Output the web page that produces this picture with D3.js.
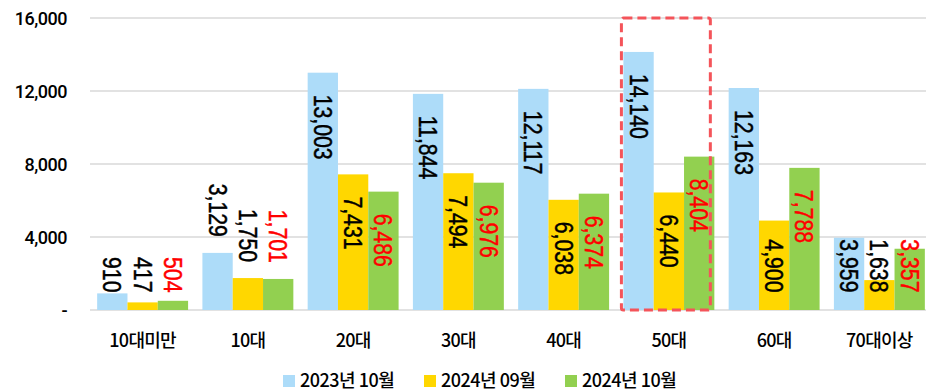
<!DOCTYPE html>
<html>
<head>
<meta charset="utf-8">
<script src="https://cdn.jsdelivr.net/npm/d3@7"></script>
<style>
  html, body { margin: 0; padding: 0; background: #fff; }
  svg { display: block; }
  text { font-family: Roboto, "Noto Sans CJK KR", sans-serif; }
</style>
</head>
<body>
<svg id="chart" width="926" height="391"></svg>
<script>
// Age groups and monthly counts
const categories = ["10대미만", "10대", "20대", "30대", "40대", "50대", "60대", "70대이상"];
const seriesNames = ["2023년 10월", "2024년 09월", "2024년 10월"];
const values2023Oct = [910, 3129, 13003, 11844, 12117, 14140, 12163, 3959];
const values2024Sep = [417, 1750, 7431, 7494, 6038, 6440, 4900, 1638];
const values2024Oct = [504, 1701, 6486, 6976, 6374, 8404, 7788, 3357];
const yTicks = [0, 4000, 8000, 12000, 16000];

// Presentation settings
const seriesColors = ["#addcf9", "#ffd700", "#92d050"];
const labelColors = ["#000000", "#000000", "#ff0000"];
const highlightCategory = "50대";
const outsideEndCategories = new Set(["10대"]);

const series = [values2023Oct, values2024Sep, values2024Oct];

const W = 926, H = 391;
const plot = { left: 90, right: 932, top: 18, bottom: 310 };

const svg = d3.select("#chart");

const x = d3.scaleBand()
  .domain(categories)
  .range([plot.left, plot.right])
  .paddingInner(0.136)
  .paddingOuter(0.068);

const xs = d3.scaleBand()
  .domain(d3.range(series.length))
  .range([0, x.bandwidth()]);

const y = d3.scaleLinear()
  .domain([0, 16000])
  .range([plot.bottom, plot.top]);

// Gridlines
svg.append("g")
  .selectAll("line")
  .data(yTicks)
  .join("line")
  .attr("x1", plot.left)
  .attr("x2", W)
  .attr("y1", d => y(d))
  .attr("y2", d => y(d))
  .attr("stroke", "#d9d9d9")
  .attr("stroke-width", 1.6);

// Y axis labels
const yAxis = d3.axisLeft(y)
  .tickValues(yTicks)
  .tickSize(0)
  .tickPadding(0)
  .tickFormat(d => d === 0 ? "-" : d3.format(",")(d));

const yAxisG = svg.append("g")
  .attr("transform", `translate(67,0)`)
  .call(yAxis);
yAxisG.select(".domain").remove();
yAxisG.selectAll("text")
  .attr("font-size", 18)
  .attr("fill", "#000")
  .attr("dy", "0.36em")
  .style("font-family", "Roboto, sans-serif")
  .style("font-weight", 500)
  .style("letter-spacing", "-0.5px");

// Category axis labels
const xAxis = d3.axisBottom(x).tickSize(0).tickPadding(0);
const xAxisG = svg.append("g")
  .attr("transform", `translate(0,347)`)
  .call(xAxis);
xAxisG.select(".domain").remove();
xAxisG.selectAll("text")
  .attr("font-size", 18)
  .attr("fill", "#000")
  .attr("dy", 0)
  .style("font-family", "'Noto Sans CJK KR', sans-serif")
  .style("font-weight", 500)
  .style("letter-spacing", "-0.7px");

// Bars
const groups = svg.append("g")
  .selectAll("g")
  .data(categories)
  .join("g")
  .attr("transform", d => `translate(${x(d)},0)`);

groups.each(function(cat, ci) {
  const g = d3.select(this);
  series.forEach((vals, si) => {
    g.append("rect")
      .attr("x", xs(si))
      .attr("width", xs.bandwidth())
      .attr("y", y(vals[ci]))
      .attr("height", y(0) - y(vals[ci]))
      .attr("fill", seriesColors[si]);
  });
});

// Rotated value labels
const labelScale = 0.85;
const labelFloor = plot.bottom - 17.5;
groups.each(function(cat, ci) {
  const g = d3.select(this);
  series.forEach((vals, si) => {
    const v = vals[ci];
    const cx = xs(si) + xs.bandwidth() / 2;
    const top = y(v);
    const lg = g.append("g");
    const t = lg.append("text")
      .attr("font-size", 25)
      .attr("fill", labelColors[si])
      .attr("stroke", labelColors[si])
      .attr("stroke-width", 0.45)
      .attr("y", "0.36em")
      .attr("text-anchor", "start")
      .style("font-family", "'Liberation Sans', Arial, sans-serif")
      .text(d3.format(",")(v));
    const len = t.node().getComputedTextLength() * labelScale;
    let start;
    if (outsideEndCategories.has(cat)) {
      start = top - 16 - len;
    } else {
      start = top + 22;
      if (start + len > labelFloor) start = labelFloor - len;
    }
    lg.attr("transform", `translate(${cx},${start}) rotate(90) scale(${labelScale},1)`);
  });
});

// Highlight box around one age group
const hx = x(highlightCategory);
svg.append("rect")
  .attr("x", hx - 2)
  .attr("y", y(16000))
  .attr("width", x.bandwidth() - 2)
  .attr("height", y(0) - y(16000))
  .attr("rx", 2)
  .attr("fill", "none")
  .attr("stroke", "#f4545a")
  .attr("stroke-width", 3)
  .attr("stroke-dasharray", "9,5");

// Legend
const legend = svg.append("g")
  .selectAll("g")
  .data(seriesNames)
  .join("g")
  .attr("transform", (d, i) => `translate(${283 + i * 141},375)`);
legend.append("rect")
  .attr("width", 12)
  .attr("height", 12)
  .attr("fill", (d, i) => seriesColors[i]);
legend.append("text")
  .attr("x", 17)
  .attr("y", 11.5)
  .attr("font-size", 18)
  .attr("fill", "#000")
  .style("font-family", "'Noto Sans CJK KR', sans-serif")
  .style("font-weight", 500)
  .style("letter-spacing", "-0.5px")
  .text(d => d);
</script>
</body>
</html>
